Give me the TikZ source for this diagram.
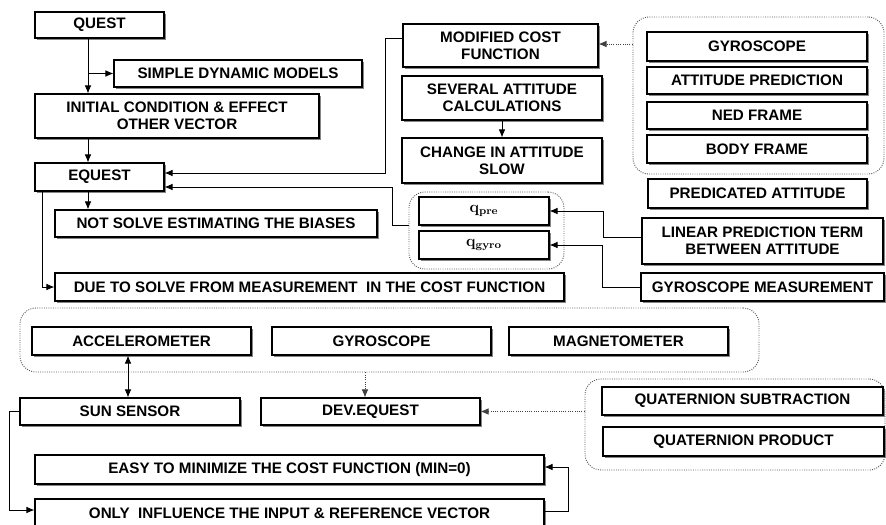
\documentclass[tikz,border=0pt]{standalone}
\usepackage[no-math]{fontspec}
\setmainfont{Liberation Sans}
\usetikzlibrary{arrows.meta,shadows}
\newcommand{\placebox}[7]{\node[#1, minimum width={(#5-#3)*0.75pt}, minimum height={(#6-#4)*0.75pt}] (#2) at ({(#3+#5)/2},{(#4+#6)/2}) {#7};}
\tikzset{
 box/.style={draw, line width=0.8pt, fill=white, inner sep=1pt, align=center,
   font=\bfseries\fontsize{11.4}{12.6}\selectfont,
   drop shadow={shadow xshift=1.6pt, shadow yshift=-1.6pt, fill=black!60, opacity=0.8}},
 qbox/.style={box, font=\fontsize{12}{14}\selectfont},
 grp/.style={draw=black!65, densely dotted, line width=0.7pt, rounded corners=12pt},
 arr/.style={line width=0.7pt, -{Latex[length=6pt,width=5pt]}},
 darr/.style={arr, densely dotted, draw=black!75},
 arrtwo/.style={line width=0.7pt, {Latex[length=6pt,width=5pt]}-{Latex[length=6pt,width=5pt]}},
}
\begin{document}
\begin{tikzpicture}[x=0.75pt,y=-0.75pt]
\useasboundingbox (0,0) rectangle (886,525);
% groups
\placebox{grp}{ggrp}{633}{17}{884}{174}{}
\placebox{grp}{qgrp}{409}{192}{564}{269}{}
\placebox{grp}{sgrp}{20}{308}{759}{372}{}
\placebox{grp}{qtgrp}{585}{379}{885}{470}{}
% boxes
\placebox{box}{quest}{35}{12}{164}{38}{QUEST}
\placebox{box}{simple}{114}{60}{362}{87}{SIMPLE DYNAMIC MODELS}
\placebox{box}{init}{35}{94}{319}{138}{INITIAL CONDITION \& EFFECT\\OTHER VECTOR}
\placebox{box}{equest}{35}{163}{164}{191}{EQUEST}
\placebox{box}{notsolve}{55}{210}{377}{237}{NOT SOLVE ESTIMATING THE BIASES}
\placebox{box}{due}{55}{273}{564}{301}{DUE TO SOLVE FROM MEASUREMENT\ \ IN THE COST FUNCTION}
\placebox{box}{mcf}{403}{24}{598}{67}{MODIFIED COST\\FUNCTION}
\placebox{box}{sev}{402}{76}{602}{120}{SEVERAL ATTITUDE\\CALCULATIONS}
\placebox{box}{chg}{402}{138}{602}{183}{CHANGE IN ATTITUDE\\SLOW}
\placebox{box}{gyroa}{647}{32}{867}{61}{GYROSCOPE}
\placebox{box}{attp}{647}{67}{867}{94}{ATTITUDE PREDICTION}
\placebox{box}{ned}{647}{102}{867}{129}{NED FRAME}
\placebox{box}{body}{647}{135}{867}{163}{BODY FRAME}
\placebox{box}{pred}{648}{179}{867}{208}{PREDICATED ATTITUDE}
\placebox{qbox}{qpre}{419}{197}{549}{225}{$\mathbf{q}_{\mathbf{pre}}$}
\placebox{qbox}{qgyro}{419}{231}{549}{259}{$\mathbf{q}_{\mathbf{gyro}}$}
\placebox{box}{lin}{642}{218}{883}{264}{LINEAR PREDICTION TERM\\BETWEEN ATTITUDE}
\placebox{box}{gm}{641}{273}{884}{301}{GYROSCOPE MEASUREMENT}
\placebox{box}{acc}{32}{327}{251}{355}{ACCELEROMETER}
\placebox{box}{gyrob}{272}{327}{491}{355}{GYROSCOPE}
\placebox{box}{mag}{509}{327}{728}{355}{MAGNETOMETER}
\placebox{box}{sun}{20}{398}{240}{425}{SUN SENSOR}
\placebox{box}{dev}{261}{398}{480}{425}{DEV.EQUEST}
\placebox{box}{qsub}{602}{387}{883}{415}{QUATERNION SUBTRACTION}
\placebox{box}{qprod}{603}{427}{884}{456}{QUATERNION PRODUCT}
\placebox{box}{easy}{35}{455}{544}{484}{EASY TO MINIMIZE THE COST FUNCTION (MIN=0)}
\placebox{box}{only}{35}{499}{544}{527}{ONLY\ \ INFLUENCE THE INPUT \& REFERENCE VECTOR}
% coordinates
\coordinate (tq) at (88,0);
\coordinate (tl) at (42,0);
% connectors
\draw[arr] (quest.south -| tq) -- (init.north -| tq);
\draw[arr] (simple.west -| tq) -- (simple.west);
\draw[arr] (init.south -| tq) -- (equest.north -| tq);
\draw[arr] (equest.south -| tq) -- (notsolve.north -| tq);
\draw[arr] (equest.south -| tl) |- (due.west);
\draw[arr] (mcf.west |- 0,38) -| (385,173) -- (equest.east |- 0,173);
\draw[arr] (qgrp.west |- 0,225) -| (392,187) -- (equest.east |- 0,187);
\draw[arr] (sev.south) -- (chg.north);
\draw[darr] (ggrp.west |- 0,44) -- (mcf.east |- 0,44);
\draw[arr] (lin.west |- 0,237) -| (603,211) -- (qpre.east);
\draw[arr] (gm.west) -| (602,245) -- (qgyro.east);
\draw[arrtwo] (acc.south -| 128,0) -- (sun.north -| 128,0);
\draw[darr] (sgrp.south -| 365,0) -- (dev.north -| 365,0);
\draw[darr] (qtgrp.west |- dev.east) -- (dev.east);
\draw[arr] (only.east |- 0,511) -| (568,467) -- (easy.east |- 0,467);
\draw[arr] (sun.west) -| (9,510) -- (only.west |- 0,510);
\end{tikzpicture}
\end{document}
